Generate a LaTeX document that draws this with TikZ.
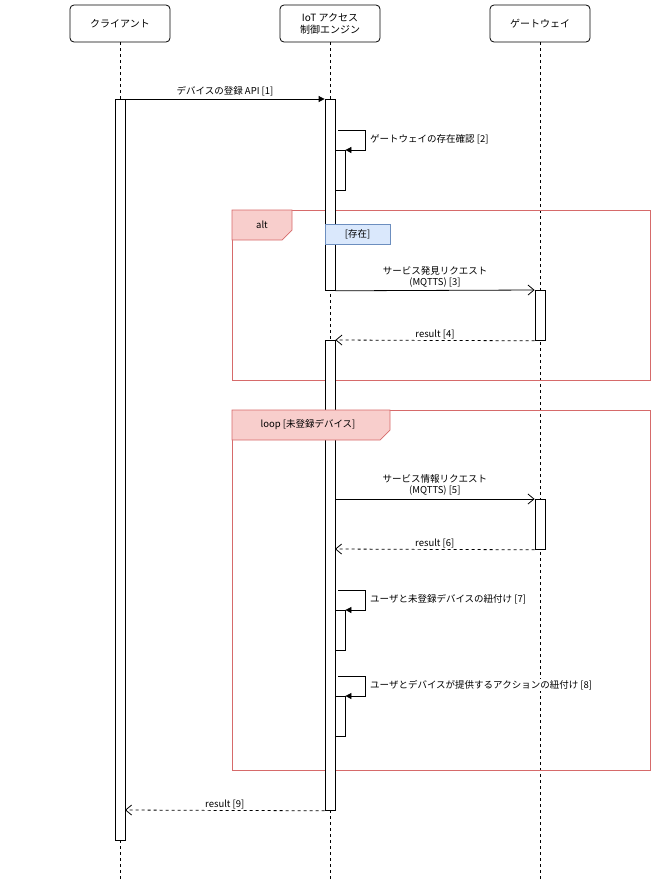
\documentclass[tikz,border=0pt]{standalone}
\usepackage{fontspec}
\setmainfont{Noto Sans CJK JP}
\usetikzlibrary{positioning}
\usetikzlibrary{arrows.meta}
\definecolor{frameline}{HTML}{D66A6A}
\definecolor{framefill}{HTML}{F8CECC}
\definecolor{guardfill}{HTML}{DAE8FC}
\definecolor{guardline}{HTML}{6C8EBF}

\begin{document}
\begin{tikzpicture}[x=1pt, y=-1pt, font=\fontsize{9.5}{11}\selectfont,
    actor/.style={draw, rounded corners=4pt, minimum width=100pt, minimum height=37pt, align=center, line width=0.8pt, font=\fontsize{10}{12}\selectfont},
    life/.style={dashed, line width=0.7pt},
    act/.style={draw, fill=white, line width=0.8pt},
    msg/.style={-{Triangle[length=6pt,width=6pt]}, line width=0.8pt},
    req/.style={-{Straight Barb[length=6pt,width=10pt]}, line width=0.8pt},
    ret/.style={dashed, -{Straight Barb[length=6pt,width=10pt]}, line width=0.8pt},
    lbl/.style={fill=white, inner sep=1pt, align=center},
    frame/.style={draw=frameline, line width=0.7pt}]

                \useasboundingbox (0,0) rectangle (662,892);

                % Actors
                \node[actor] at (120,23.5) (client) {クライアント};
                \node[actor] at (330,23.5) (engine) {IoT アクセス\\制御エンジン};
                \node[actor] at (540,23.5) (gw) {ゲートウェイ};
                \coordinate (clientEnd) at (120,880);
                \coordinate (engineEnd) at (330,880);
                \coordinate (gwEnd) at (540,880);
                \draw[life] (client) -- (clientEnd);
                \draw[life] (engine) -- (engineEnd);
                \draw[life] (gw) -- (gwEnd);

                % Frames
                \draw[frame] (232,210) rectangle (650,380);
                \draw[frame] (232,410) rectangle (650,770);

                % Activations
                \node[act, minimum width=10pt, minimum height=741pt, inner sep=0pt, anchor=north] at (120,99) (clientAct) {};
                \node[act, minimum width=10pt, minimum height=191pt, inner sep=0pt, anchor=north] at (330,99) (engAct1) {};
                \node[act, minimum width=10pt, minimum height=40pt, inner sep=0pt, anchor=north] at (340,150) (selfAct2) {};
                \node[act, minimum width=10pt, minimum height=470pt, inner sep=0pt, anchor=north] at (330,340) (engAct2) {};
                \node[act, minimum width=10pt, minimum height=50pt, inner sep=0pt, anchor=north] at (540,290) (gwAct1) {};
                \node[act, minimum width=10pt, minimum height=50pt, inner sep=0pt, anchor=north] at (540,499) (gwAct2) {};
                \node[act, minimum width=10pt, minimum height=40pt, inner sep=0pt, anchor=north] at (340,610) (selfAct7) {};
                \node[act, minimum width=10pt, minimum height=40pt, inner sep=0pt, anchor=north] at (340,696) (selfAct8) {};

                % Frame tags
                \draw[frame, fill=framefill] (232,210) -- (292,210) -- (292,230) -- (282,240) -- (232,240) -- cycle;
                \node at (262,225) (altTag) {alt};
                \draw[frame, fill=framefill] (232,410) -- (390,410) -- (390,430) -- (380,440) -- (232,440) -- cycle;
                \node at (308,425) (loopTag) {loop [未登録デバイス]};

                % Guard
                \node[draw=guardline, fill=guardfill, line width=0.7pt, minimum width=65pt, minimum height=20pt, inner sep=0pt] at (357.5,234) (guard) {[存在]};

                % Messages
                \draw[msg] (clientAct.north east) -- (engAct1.north west) node[lbl, midway, above=1pt] (m1) {デバイスの登録 API [1]};
                \coordinate (s2a) at (338,130);
                \coordinate (s2b) at (365,130);
                \coordinate (s2c) at (365,150);
                \draw[msg] (s2a) -- (s2b) -- (s2c) -- (selfAct2.north east);
                \node[lbl, anchor=west] at (369,139) (m2) {ゲートウェイの存在確認 [2]};
                \draw[req] (engAct1.south east) -- (gwAct1.north west) node[lbl, midway, above=2pt] (m3) {サービス発見リクエスト\\(MQTTS) [3]};
                \draw[ret] (gwAct1.south west) -- (engAct2.north east) node[lbl, midway, above=0pt] (m4) {result [4]};
                \coordinate (s5) at (335,499);
                \draw[req] (s5) -- (gwAct2.north west) node[lbl, midway, above=2pt] (m5) {サービス情報リクエスト\\(MQTTS) [5]};
                \coordinate (r6) at (335,549);
                \draw[ret] (gwAct2.south west) -- (r6) node[lbl, midway, above=0pt] (m6) {result [6]};
                \coordinate (s7a) at (338,590);
                \coordinate (s7b) at (365,590);
                \coordinate (s7c) at (365,610);
                \draw[msg] (s7a) -- (s7b) -- (s7c) -- (selfAct7.north east);
                \node[lbl, anchor=west] at (369,599) (m7) {ユーザと未登録デバイスの紐付け [7]};
                \coordinate (s8a) at (338,676);
                \coordinate (s8b) at (365,676);
                \coordinate (s8c) at (365,696);
                \draw[msg] (s8a) -- (s8b) -- (s8c) -- (selfAct8.north east);
                \node[lbl, anchor=west] at (369,685) (m8) {ユーザとデバイスが提供するアクションの紐付け [8]};
                \coordinate (r9) at (125,810);
                \draw[ret] (engAct2.south west) -- (r9) node[lbl, midway, above=0pt] (m9) {result [9]};

            \end{tikzpicture}
\end{document}
